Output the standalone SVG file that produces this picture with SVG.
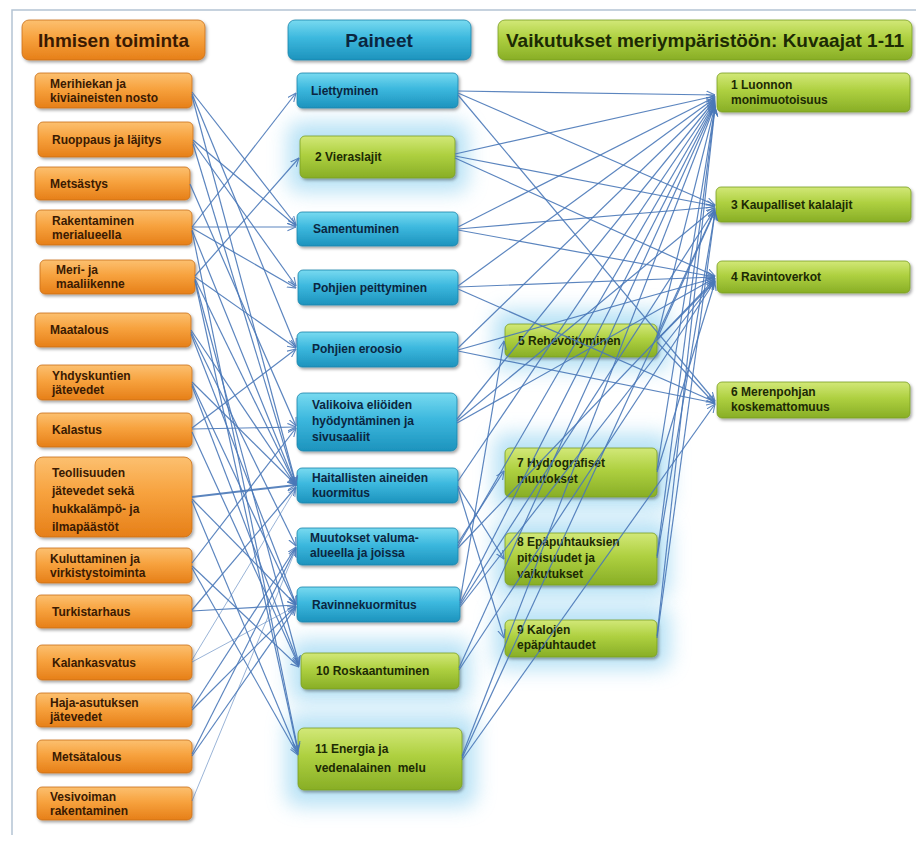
<svg xmlns="http://www.w3.org/2000/svg" width="916" height="841" viewBox="0 0 916 841">
<defs>
<linearGradient id="gO" x1="0" y1="0" x2="0" y2="1"><stop offset="0" stop-color="#fcc070"/><stop offset="0.45" stop-color="#f7a23e"/><stop offset="1" stop-color="#e67f18"/></linearGradient>
<linearGradient id="gB" x1="0" y1="0" x2="0" y2="1"><stop offset="0" stop-color="#78daf0"/><stop offset="0.45" stop-color="#3cb8de"/><stop offset="1" stop-color="#1d93bd"/></linearGradient>
<linearGradient id="gG" x1="0" y1="0" x2="0" y2="1"><stop offset="0" stop-color="#d2e878"/><stop offset="0.45" stop-color="#aed040"/><stop offset="1" stop-color="#88ae26"/></linearGradient>
<filter id="sh" x="-10%" y="-20%" width="125%" height="150%"><feDropShadow dx="1.5" dy="2" stdDeviation="1.5" flood-color="#000" flood-opacity="0.35"/></filter>
<filter id="gl" x="-30%" y="-60%" width="160%" height="220%"><feGaussianBlur stdDeviation="10"/></filter>
<marker id="a" viewBox="0 0 10 10" refX="9.5" refY="5" markerWidth="9" markerHeight="9" orient="auto" markerUnits="userSpaceOnUse"><path d="M0,0.8 L9.5,5 L0,9.2" fill="none" stroke="#4a78b8" stroke-width="1.2"/></marker>
</defs>
<style>
.o{fill:url(#gO);stroke:#c9701a;stroke-width:0.8;filter:url(#sh)}
.b{fill:url(#gB);stroke:#1b84ab;stroke-width:0.8;filter:url(#sh)}
.g{fill:url(#gG);stroke:#7a9e22;stroke-width:0.8;filter:url(#sh)}
text{font-family:"Liberation Sans",Arial,sans-serif;font-weight:bold;font-size:12px}
.to{fill:#3a1a02}
.tb{fill:#0b2640}
.tg{fill:#1c2a04}
.h{font-size:19px}
.glow{fill:#9ad6f2;opacity:0.7;filter:url(#gl)}
.c line{stroke:#4a78b8;stroke-width:1.2;marker-end:url(#a);opacity:0.9}
.c line.th{stroke-width:0.8;opacity:0.7}
</style>
<rect width="916" height="841" fill="#ffffff"/>
<path d="M12,835 L12,10 L916,10" fill="none" stroke="#b4c4d4" stroke-width="1.5"/>

<g id="glows">
<rect class="glow" x="288" y="122" width="180" height="70" rx="12"/>
<rect class="glow" x="290" y="640" width="180" height="62" rx="12"/>
<rect class="glow" x="286" y="714" width="190" height="92" rx="12"/>
<rect class="glow" x="494" y="310" width="176" height="60" rx="12"/>
<rect class="glow" x="494" y="434" width="176" height="76" rx="12"/>
<rect class="glow" x="494" y="520" width="176" height="78" rx="12"/>
<rect class="glow" x="494" y="607" width="176" height="62" rx="12"/>
</g>

<g id="h1"><rect class="o" x="22" y="20" width="183" height="40" rx="7"/><text class="to h" x="38" y="47">Ihmisen toiminta</text></g>
<g id="h2"><rect class="b" x="288" y="20" width="183" height="40" rx="7"/><text class="tb h" x="379" y="47" text-anchor="middle">Paineet</text></g>
<g id="h3"><rect class="g" x="498" y="20" width="414" height="40" rx="7"/><text class="tg h" x="506" y="47">Vaikutukset meriympäristöön: Kuvaajat 1-11</text></g>

<g id="L1"><rect class="o" x="35" y="73" width="157" height="35" rx="5"/><text class="to" x="50" y="88">Merihiekan ja</text><text class="to" x="50" y="102">kiviaineisten nosto</text></g>
<g id="L2"><rect class="o" x="38" y="122" width="155" height="35" rx="5"/><text class="to" x="52" y="144">Ruoppaus ja läjitys</text></g>
<g id="L3"><rect class="o" x="35" y="167" width="155" height="33" rx="5"/><text class="to" x="50" y="188">Metsästys</text></g>
<g id="L4"><rect class="o" x="36" y="210" width="156" height="35" rx="5"/><text class="to" x="52" y="225">Rakentaminen</text><text class="to" x="52" y="239">merialueella</text></g>
<g id="L5"><rect class="o" x="40" y="260" width="155" height="34" rx="5"/><text class="to" x="56" y="274">Meri- ja</text><text class="to" x="56" y="288">maaliikenne</text></g>
<g id="L6"><rect class="o" x="35" y="313" width="156" height="34" rx="5"/><text class="to" x="50" y="334">Maatalous</text></g>
<g id="L7"><rect class="o" x="37" y="365" width="155" height="35" rx="5"/><text class="to" x="52" y="380">Yhdyskuntien</text><text class="to" x="52" y="394">jätevedet</text></g>
<g id="L8"><rect class="o" x="37" y="413" width="155" height="34" rx="5"/><text class="to" x="52" y="434">Kalastus</text></g>
<g id="L9"><rect class="o" x="35" y="457" width="157" height="80" rx="8"/><text class="to" x="52" y="477">Teollisuuden</text><text class="to" x="52" y="495">jätevedet sekä</text><text class="to" x="52" y="513">hukkalämpö- ja</text><text class="to" x="52" y="531">ilmapäästöt</text></g>
<g id="L10"><rect class="o" x="36" y="548" width="156" height="35" rx="5"/><text class="to" x="50" y="563">Kuluttaminen ja</text><text class="to" x="50" y="577">virkistystoiminta</text></g>
<g id="L11"><rect class="o" x="36" y="595" width="156" height="33" rx="5"/><text class="to" x="52" y="616">Turkistarhaus</text></g>
<g id="L12"><rect class="o" x="37" y="645" width="155" height="35" rx="5"/><text class="to" x="52" y="667">Kalankasvatus</text></g>
<g id="L13"><rect class="o" x="36" y="693" width="156" height="34" rx="5"/><text class="to" x="50" y="707">Haja-asutuksen</text><text class="to" x="50" y="721">jätevedet</text></g>
<g id="L14"><rect class="o" x="37" y="740" width="155" height="33" rx="5"/><text class="to" x="52" y="761">Metsätalous</text></g>
<g id="L15"><rect class="o" x="37" y="787" width="155" height="33" rx="5"/><text class="to" x="50" y="801">Vesivoiman</text><text class="to" x="50" y="815">rakentaminen</text></g>

<g id="M1"><rect class="b" x="297" y="73" width="161" height="35" rx="5"/><text class="tb" x="311" y="95">Liettyminen</text></g>
<g id="M2"><rect class="g" x="300" y="136" width="155" height="42" rx="5"/><text class="tg" x="315" y="161">2 Vieraslajit</text></g>
<g id="M3"><rect class="b" x="297" y="212" width="161" height="34" rx="5"/><text class="tb" x="313" y="233">Samentuminen</text></g>
<g id="M4"><rect class="b" x="298" y="270" width="160" height="35" rx="5"/><text class="tb" x="313" y="292">Pohjien peittyminen</text></g>
<g id="M5"><rect class="b" x="297" y="332" width="161" height="35" rx="5"/><text class="tb" x="312" y="353">Pohjien eroosio</text></g>
<g id="M6"><rect class="b" x="297" y="393" width="160" height="58" rx="6"/><text class="tb" x="312" y="409">Valikoiva eliöiden</text><text class="tb" x="312" y="425">hyödyntäminen ja</text><text class="tb" x="312" y="441">sivusaaliit</text></g>
<g id="M7"><rect class="b" x="297" y="468" width="161" height="35" rx="5"/><text class="tb" x="312" y="482">Haitallisten aineiden</text><text class="tb" x="312" y="497">kuormitus</text></g>
<g id="M8"><rect class="b" x="297" y="528" width="161" height="37" rx="5"/><text class="tb" x="310" y="542">Muutokset valuma-</text><text class="tb" x="310" y="557">alueella ja joissa</text></g>
<g id="M9"><rect class="b" x="297" y="587" width="163" height="35" rx="5"/><text class="tb" x="312" y="609">Ravinnekuormitus</text></g>
<g id="M10"><rect class="g" x="301" y="653" width="158" height="36" rx="5"/><text class="tg" x="316" y="675">10 Roskaantuminen</text></g>
<g id="M11"><rect class="g" x="298" y="728" width="164" height="62" rx="6"/><text class="tg" x="315" y="753">11 Energia ja</text><text class="tg" x="315" y="772" xml:space="preserve" style="white-space:pre">vedenalainen  melu</text></g>

<g id="T5"><rect class="g" x="505" y="324" width="152" height="33" rx="5"/><text class="tg" x="518" y="345">5 Rehevöityminen</text></g>
<g id="T7"><rect class="g" x="505" y="448" width="152" height="49" rx="5"/><text class="tg" x="517" y="467">7 Hydrografiset</text><text class="tg" x="517" y="483">muutokset</text></g>
<g id="T8"><rect class="g" x="505" y="533" width="152" height="52" rx="5"/><text class="tg" x="517" y="546">8 Epäpuhtauksien</text><text class="tg" x="517" y="562">pitoisuudet ja</text><text class="tg" x="517" y="578">vaikutukset</text></g>
<g id="T9"><rect class="g" x="505" y="620" width="152" height="37" rx="5"/><text class="tg" x="517" y="634">9 Kalojen</text><text class="tg" x="517" y="649">epäpuhtaudet</text></g>

<g id="R1"><rect class="g" x="717" y="73" width="193" height="39" rx="5"/><text class="tg" x="731" y="89">1 Luonnon</text><text class="tg" x="731" y="104">monimuotoisuus</text></g>
<g id="R3"><rect class="g" x="716" y="187" width="195" height="35" rx="5"/><text class="tg" x="731" y="209">3 Kaupalliset kalalajit</text></g>
<g id="R4"><rect class="g" x="717" y="261" width="193" height="32" rx="5"/><text class="tg" x="731" y="281">4 Ravintoverkot</text></g>
<g id="R6"><rect class="g" x="717" y="382" width="193" height="36" rx="5"/><text class="tg" x="731" y="396">6 Merenpohjan</text><text class="tg" x="731" y="411">koskemattomuus</text></g>

<g id="connectors" class="c">
<line x1="192" y1="92" x2="296" y2="225"/>
<line x1="192" y1="94" x2="296" y2="347"/>
<line x1="192" y1="96" x2="296" y2="484"/>
<line x1="193" y1="140" x2="296" y2="226"/>
<line x1="193" y1="142" x2="296" y2="286"/>
<line x1="193" y1="144" x2="296" y2="485"/>
<line x1="190" y1="184" x2="296" y2="426"/>
<line x1="192" y1="227" x2="296" y2="93"/>
<line x1="192" y1="227" x2="296" y2="227"/>
<line x1="192" y1="228" x2="296" y2="288"/>
<line x1="192" y1="230" x2="296" y2="486"/>
<line x1="192" y1="231" x2="298" y2="750"/>
<line x1="195" y1="276" x2="299" y2="158"/>
<line x1="195" y1="277" x2="296" y2="348"/>
<line x1="195" y1="279" x2="296" y2="486"/>
<line x1="195" y1="280" x2="299" y2="664"/>
<line x1="195" y1="281" x2="298" y2="752"/>
<line x1="191" y1="330" x2="296" y2="486"/>
<line x1="191" y1="332" x2="296" y2="546"/>
<line x1="191" y1="334" x2="296" y2="604"/>
<line x1="192" y1="382" x2="296" y2="485"/>
<line x1="192" y1="384" x2="296" y2="605"/>
<line x1="192" y1="386" x2="299" y2="665"/>
<line x1="192" y1="428" x2="296" y2="349"/>
<line x1="192" y1="429" x2="296" y2="427"/>
<line x1="192" y1="432" x2="299" y2="666"/>
<line x1="192" y1="497" x2="296" y2="485" style="stroke-width:2"/>
<line x1="192" y1="499" x2="296" y2="605"/>
<line x1="192" y1="501" x2="298" y2="754"/>
<line x1="192" y1="563" x2="296" y2="428"/>
<line x1="192" y1="566" x2="299" y2="667"/>
<line x1="192" y1="568" x2="298" y2="755"/>
<line x1="192" y1="610" x2="296" y2="487"/>
<line x1="192" y1="611" x2="296" y2="605"/>
<line class="th" x1="192" y1="660" x2="296" y2="488"/>
<line class="th" x1="192" y1="662" x2="296" y2="606"/>
<line x1="192" y1="708" x2="296" y2="547"/>
<line x1="192" y1="710" x2="296" y2="606"/>
<line x1="192" y1="754" x2="296" y2="548"/>
<line x1="192" y1="756" x2="296" y2="607"/>
<line class="th" x1="192" y1="801" x2="296" y2="549"/>

<line x1="458" y1="91" x2="715" y2="95"/>
<line x1="458" y1="93" x2="715" y2="205"/>
<line x1="458" y1="95" x2="715" y2="401"/>
<line x1="455" y1="154" x2="715" y2="96"/>
<line x1="455" y1="156" x2="715" y2="206"/>
<line x1="455" y1="158" x2="715" y2="276"/>
<line x1="458" y1="227" x2="715" y2="97"/>
<line x1="458" y1="229" x2="715" y2="207"/>
<line x1="458" y1="230" x2="715" y2="277"/>
<line x1="458" y1="286" x2="715" y2="98"/>
<line x1="458" y1="287" x2="715" y2="277"/>
<line x1="458" y1="289" x2="715" y2="402"/>
<line x1="458" y1="348" x2="715" y2="99"/>
<line x1="458" y1="350" x2="715" y2="278"/>
<line x1="458" y1="351" x2="715" y2="403"/>
<line x1="457" y1="419" x2="715" y2="100"/>
<line x1="457" y1="421" x2="715" y2="208"/>
<line x1="457" y1="423" x2="715" y2="278"/>
<line x1="458" y1="481" x2="715" y2="101"/>
<line x1="458" y1="486" x2="504" y2="559"/>
<line x1="458" y1="488" x2="504" y2="638"/>
<line x1="458" y1="543" x2="504" y2="471"/>
<line x1="458" y1="546" x2="715" y2="102"/>
<line x1="458" y1="548" x2="715" y2="279"/>
<line x1="460" y1="601" x2="504" y2="341"/>
<line x1="460" y1="603" x2="715" y2="103"/>
<line x1="460" y1="605" x2="715" y2="209"/>
<line x1="460" y1="607" x2="715" y2="280"/>
<line x1="459" y1="668" x2="715" y2="104"/>
<line x1="459" y1="670" x2="715" y2="281"/>
<line x1="462" y1="756" x2="715" y2="105"/>
<line x1="462" y1="758" x2="715" y2="210"/>
<line x1="462" y1="760" x2="715" y2="404"/>
<line x1="657" y1="338" x2="715" y2="106"/>
<line x1="657" y1="339" x2="715" y2="211"/>
<line x1="657" y1="340" x2="715" y2="281"/>
<line x1="657" y1="342" x2="715" y2="404"/>
<line x1="657" y1="470" x2="715" y2="107"/>
<line x1="657" y1="472" x2="715" y2="282"/>
<line x1="657" y1="556" x2="715" y2="107"/>
<line x1="657" y1="558" x2="715" y2="212"/>
<line x1="657" y1="636" x2="715" y2="108"/>
<line x1="657" y1="638" x2="715" y2="212"/>
</g>
</svg>
